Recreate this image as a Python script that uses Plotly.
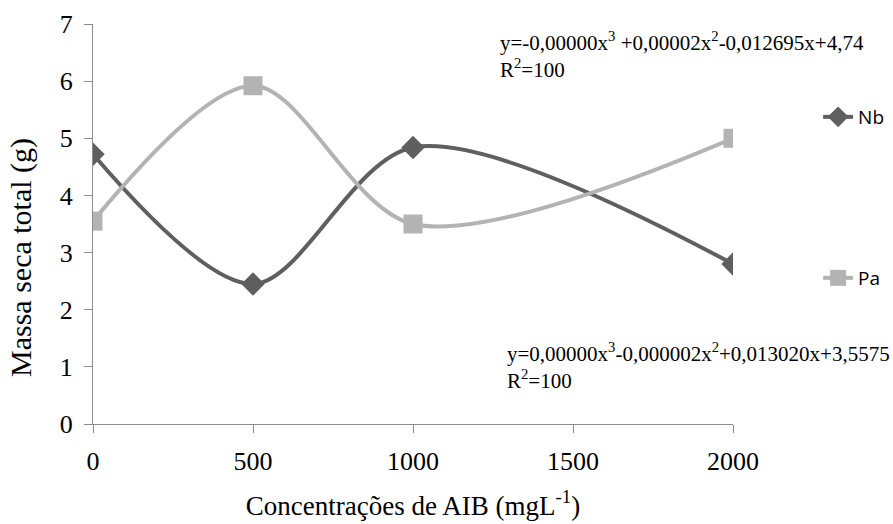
import plotly.graph_objects as go

conc = [0, 500, 1000, 2000]
nb = [4.72, 2.45, 4.84, 2.80]
pa = [3.55, 5.92, 3.50, 5.00]
x_ticks = [0, 500, 1000, 1500, 2000]
y_ticks = [0, 1, 2, 3, 4, 5, 6, 7]

eq_nb = "y=-0,00000x<sup>3</sup> +0,00002x<sup>2</sup>-0,012695x+4,74<br>R<sup>2</sup>=100"
eq_pa = "y=0,00000x<sup>3</sup>-0,000002x<sup>2</sup>+0,013020x+3,5575<br>R<sup>2</sup>=100"
y_title = "Massa seca total (g)"
x_title = "Concentrações de AIB (mgL<sup>-1</sup>)"

serif = "Times New Roman, Liberation Serif, serif"
sans = "Open Sans, Liberation Sans, sans-serif"

fig = go.Figure()
fig.add_trace(go.Scatter(
    x=conc, y=nb, name="Nb", mode="lines+markers", showlegend=True,
    line=dict(color="#5f5f5f", width=4, shape="spline", smoothing=0.9),
    marker=dict(symbol="diamond", size=18, color="#5f5f5f"),
    legend="legend",
))
fig.add_trace(go.Scatter(
    x=conc, y=pa, name="Pa", mode="lines+markers", showlegend=True,
    line=dict(color="#b3b3b3", width=4, shape="spline", smoothing=0.9),
    marker=dict(symbol="square", size=19, color="#b3b3b3"),
    legend="legend2",
))

fig.update_layout(
    width=893, height=524,
    showlegend=True,
    margin=dict(l=93, r=160, t=24, b=100, autoexpand=False),
    paper_bgcolor="white", plot_bgcolor="white",
    font=dict(family=serif, color="#000000", size=23),
    xaxis=dict(
        range=[0, 2000], tickvals=x_ticks, ticktext=[str(v) for v in x_ticks],
        automargin=False,
        showgrid=False, zeroline=False, showline=True, linecolor="#8c8c8c", linewidth=1,
        ticks="outside", ticklen=8, tickcolor="#8c8c8c", ticklabelstandoff=6,
        tickfont=dict(family=serif, size=26, color="#000"),
        title=dict(text=x_title, font=dict(family=serif, size=27, color="#000"), standoff=20),
    ),
    yaxis=dict(
        range=[0, 7], tickvals=y_ticks,
        automargin=False,
        showgrid=False, zeroline=False, showline=True, linecolor="#8c8c8c", linewidth=1,
        ticks="outside", ticklen=8, tickcolor="#8c8c8c", ticklabelstandoff=6,
        tickfont=dict(family=serif, size=26, color="#000"),
    ),
    legend=dict(x=1.133, y=0.7675, xanchor="left", yanchor="middle",
                font=dict(family=sans, size=19, color="#000"), bgcolor="rgba(0,0,0,0)"),
    legend2=dict(x=1.133, y=0.365, xanchor="left", yanchor="middle",
                 font=dict(family=sans, size=19, color="#000"), bgcolor="rgba(0,0,0,0)"),
    annotations=[
        dict(text=y_title, xref="paper", yref="paper", x=-0.1125, y=0.415, xanchor="center", yanchor="middle",
             textangle=-90, showarrow=False, font=dict(family=serif, size=30, color="#000")),
        dict(text=eq_nb, xref="paper", yref="paper", x=0.6325, y=0.995, xanchor="left", yanchor="top",
             align="left", showarrow=False, font=dict(family=serif, size=21, color="#000")),
        dict(text=eq_pa, xref="paper", yref="paper", x=0.6445, y=0.2175, xanchor="left", yanchor="top",
             align="left", showarrow=False, font=dict(family=serif, size=21, color="#000")),
    ],
)

fig.write_html("out.html", post_script="document.body.style.margin='0';",
               config={"displayModeBar": False})
